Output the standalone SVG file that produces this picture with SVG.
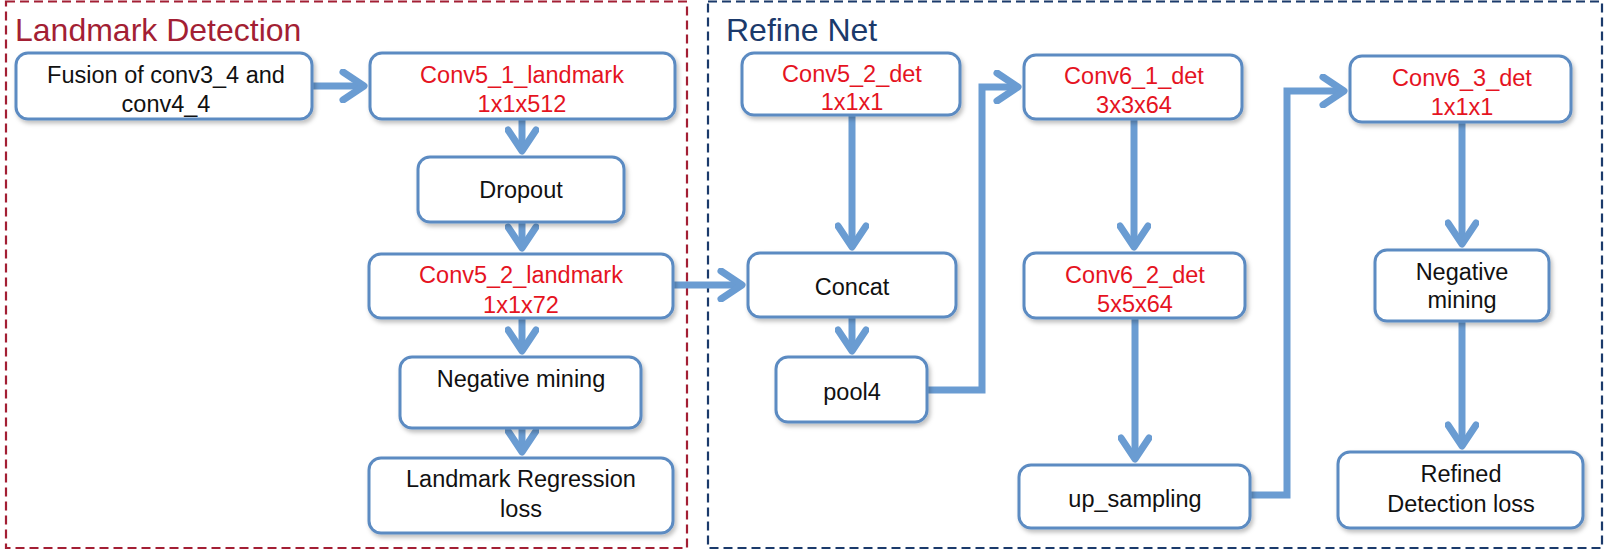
<svg xmlns="http://www.w3.org/2000/svg" width="1610" height="550" viewBox="0 0 1610 550">
<style>
.frame{fill:none;stroke-width:2.2;stroke-dasharray:9 5}
.box{fill:#ffffff;stroke:#5b8bc2;stroke-width:3;filter:url(#sh)}
.t{font-family:"Liberation Sans",Arial,sans-serif;font-size:23.5px;text-anchor:middle;fill:#111111}
.r{fill:#e5141f}
.title{font-family:"Liberation Sans",Arial,sans-serif;font-size:32px}
.c{fill:none;stroke:#6a9cd2;stroke-width:7;stroke-linejoin:miter}
</style>
<defs>
<filter id="sh" x="-10%" y="-10%" width="130%" height="140%">
<feDropShadow dx="2" dy="3" stdDeviation="2" flood-color="#000" flood-opacity="0.25"/>
</filter>
<marker id="ah" markerUnits="userSpaceOnUse" viewBox="0 0 32 34" refX="27" refY="17" markerWidth="32" markerHeight="34" orient="auto">
<path d="M6,3 L27,17 L6,31" fill="none" stroke="#6a9cd2" stroke-width="7" stroke-linecap="round" stroke-linejoin="round"/>
</marker>
</defs>
<rect width="1610" height="550" fill="#ffffff"/>
<rect class="frame" x="6" y="1.5" width="681" height="546.5" stroke="#a31f34"/>
<rect class="frame" x="708" y="1.5" width="894" height="546.5" stroke="#1b3a6b"/>
<text class="title" x="15" y="41" fill="#a31f34">Landmark Detection</text>
<text class="title" x="726" y="41" fill="#1b3a6b">Refine Net</text>

<g id="connectors">
<path class="c" d="M312,86 H364" marker-end="url(#ah)"/>
<path class="c" d="M522,119 V151" marker-end="url(#ah)"/>
<path class="c" d="M522,222 V248" marker-end="url(#ah)"/>
<path class="c" d="M522,318 V351" marker-end="url(#ah)"/>
<path class="c" d="M522,428 V452" marker-end="url(#ah)"/>
<path class="c" d="M673,285 H742" marker-end="url(#ah)"/>
<path class="c" d="M852,115 V247" marker-end="url(#ah)"/>
<path class="c" d="M852,317 V351" marker-end="url(#ah)"/>
<path class="c" d="M927,390 H982 V87 H1018" marker-end="url(#ah)"/>
<path class="c" d="M1134,119 V247" marker-end="url(#ah)"/>
<path class="c" d="M1135,318 V459" marker-end="url(#ah)"/>
<path class="c" d="M1250,495 H1287 V91 H1344" marker-end="url(#ah)"/>
<path class="c" d="M1462,122 V244" marker-end="url(#ah)"/>
<path class="c" d="M1462,321 V446" marker-end="url(#ah)"/>
</g>

<g id="fusion">
<rect class="box" x="16" y="53" width="296" height="66" rx="12"/>
<text class="t" x="166" y="83">Fusion of conv3_4 and</text>
<text class="t" x="166" y="112">conv4_4</text>
</g>
<g id="conv5_1_landmark">
<rect class="box" x="370" y="53" width="305" height="66" rx="12"/>
<text class="t r" x="522" y="83">Conv5_1_landmark</text>
<text class="t r" x="522" y="112">1x1x512</text>
</g>
<g id="dropout">
<rect class="box" x="418" y="157" width="206" height="65" rx="12"/>
<text class="t" x="521" y="198">Dropout</text>
</g>
<g id="conv5_2_landmark">
<rect class="box" x="369" y="254" width="304" height="64" rx="12"/>
<text class="t r" x="521" y="283">Conv5_2_landmark</text>
<text class="t r" x="521" y="313">1x1x72</text>
</g>
<g id="negative_mining_1">
<rect class="box" x="400" y="357" width="241" height="71" rx="12"/>
<text class="t" x="521" y="387">Negative mining</text>
</g>
<g id="landmark_regression_loss">
<rect class="box" x="369" y="458" width="304" height="75" rx="12"/>
<text class="t" x="521" y="487">Landmark Regression</text>
<text class="t" x="521" y="517">loss</text>
</g>
<g id="conv5_2_det">
<rect class="box" x="742" y="53" width="218" height="62" rx="12"/>
<text class="t r" x="852" y="82">Conv5_2_det</text>
<text class="t r" x="852" y="110">1x1x1</text>
</g>
<g id="concat">
<rect class="box" x="748" y="253" width="208" height="64" rx="12"/>
<text class="t" x="852" y="295">Concat</text>
</g>
<g id="pool4">
<rect class="box" x="776" y="357" width="151" height="65" rx="12"/>
<text class="t" x="852" y="400">pool4</text>
</g>
<g id="conv6_1_det">
<rect class="box" x="1024" y="55" width="218" height="64" rx="12"/>
<text class="t r" x="1134" y="84">Conv6_1_det</text>
<text class="t r" x="1134" y="113">3x3x64</text>
</g>
<g id="conv6_2_det">
<rect class="box" x="1024" y="253" width="221" height="65" rx="12"/>
<text class="t r" x="1135" y="283">Conv6_2_det</text>
<text class="t r" x="1135" y="312">5x5x64</text>
</g>
<g id="up_sampling">
<rect class="box" x="1019" y="465" width="231" height="63" rx="12"/>
<text class="t" x="1135" y="507">up_sampling</text>
</g>
<g id="conv6_3_det">
<rect class="box" x="1350" y="56" width="221" height="66" rx="12"/>
<text class="t r" x="1462" y="86">Conv6_3_det</text>
<text class="t r" x="1462" y="115">1x1x1</text>
</g>
<g id="negative_mining_2">
<rect class="box" x="1375" y="250" width="174" height="71" rx="12"/>
<text class="t" x="1462" y="280">Negative</text>
<text class="t" x="1462" y="308">mining</text>
</g>
<g id="refined_detection_loss">
<rect class="box" x="1338" y="452" width="245" height="76" rx="12"/>
<text class="t" x="1461" y="482">Refined</text>
<text class="t" x="1461" y="512">Detection loss</text>
</g>
</svg>
